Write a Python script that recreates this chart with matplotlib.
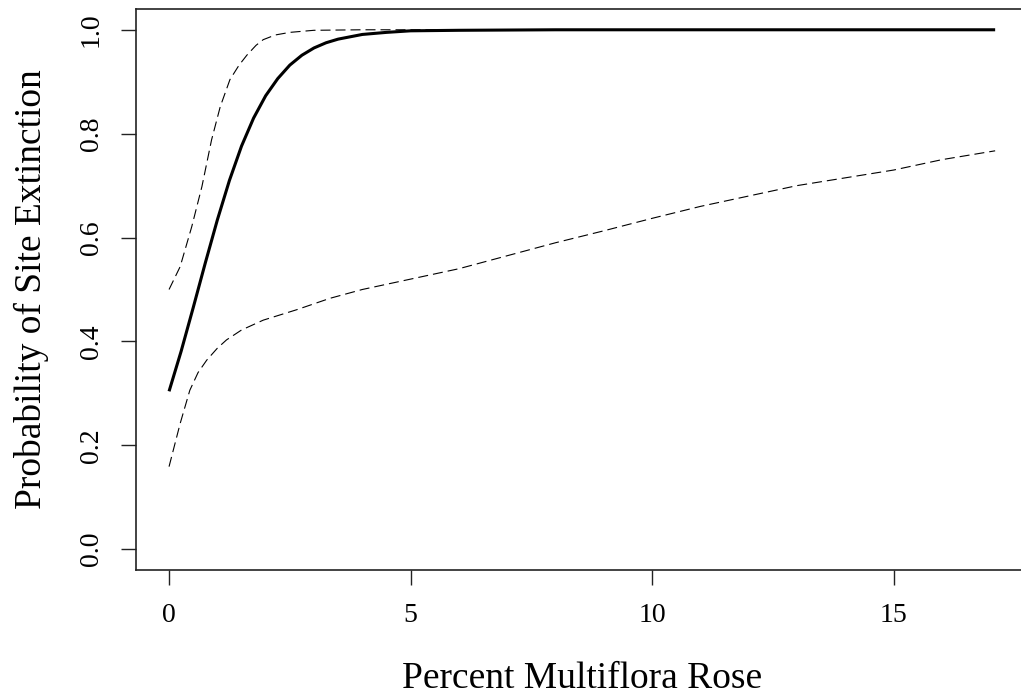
import numpy as np
import matplotlib
matplotlib.use("Agg")
import matplotlib.pyplot as plt

x_mean = [0, 0.25, 0.5, 0.75, 1.0, 1.25, 1.5, 1.75, 2.0, 2.25, 2.5, 2.75, 3.0, 3.25, 3.5, 4.0, 4.5, 5.0,
          6.0, 8.0, 17.1]
p_mean = [0.304, 0.381, 0.465, 0.551, 0.634, 0.710, 0.776, 0.830, 0.873, 0.906, 0.932, 0.951, 0.965,
          0.975, 0.982, 0.991, 0.995, 0.998, 0.999, 1.0, 1.0]

x_upper = [0, 0.23, 0.47, 0.68, 0.88, 1.06, 1.26, 1.45, 1.61, 1.8, 1.95, 2.2, 2.5, 3.0, 4.0, 17.1]
p_upper = [0.50, 0.544, 0.621, 0.698, 0.788, 0.852, 0.904, 0.932, 0.951, 0.970, 0.981, 0.990, 0.995,
           0.999, 1.0, 1.0]

x_lower = [0, 0.23, 0.43, 0.6, 0.78, 1.0, 1.19, 1.5, 1.95, 2.64, 3.33, 4, 5, 6, 7, 8, 9, 10, 11, 12, 13,
           14, 15, 16, 17.1]
p_lower = [0.159, 0.242, 0.306, 0.340, 0.364, 0.387, 0.403, 0.422, 0.441, 0.461, 0.483, 0.50, 0.52, 0.54,
           0.565, 0.59, 0.613, 0.637, 0.66, 0.68, 0.70, 0.715, 0.73, 0.75, 0.767]

xticks = [0, 5, 10, 15]
yticks = [0.0, 0.2, 0.4, 0.6, 0.8, 1.0]

plt.rcParams['font.family'] = 'Liberation Serif'

fig = plt.figure(figsize=(10.21, 6.98), dpi=100)
ax = fig.add_axes([136/1021, 1 - 570/698, (1028-136)/1021, (570-9)/698])

ax.plot(x_mean, p_mean, color='black', lw=2.2, solid_capstyle='butt', solid_joinstyle='round')
ax.plot(x_upper, p_upper, color='black', lw=0.8, dashes=(9, 4.5))
ax.plot(x_lower, p_lower, color='black', lw=0.8, dashes=(9, 4.5))

ax.set_xlim(-0.684, 17.78)
ax.set_ylim(-0.04, 1.04)
ax.set_xticks(xticks)
ax.set_xticklabels([str(t) for t in xticks])
ax.set_yticks(yticks)
ax.set_yticklabels(['%.1f' % t for t in yticks], rotation=90, va='center')
ax.tick_params(direction='out', length=11, width=1.0, labelsize=20, pad=13, color='#222222')
ax.tick_params(axis='y', pad=12)
for s in ax.spines.values():
    s.set_linewidth(1.2)
    s.set_color('#222222')
ax.spines['right'].set_visible(False)

ax.set_xlabel('Percent Multiflora Rose', fontsize=27, labelpad=24)
ax.set_ylabel('Probability of Site Extinction', fontsize=27, labelpad=22)

fig.savefig('out.png', dpi=100)
